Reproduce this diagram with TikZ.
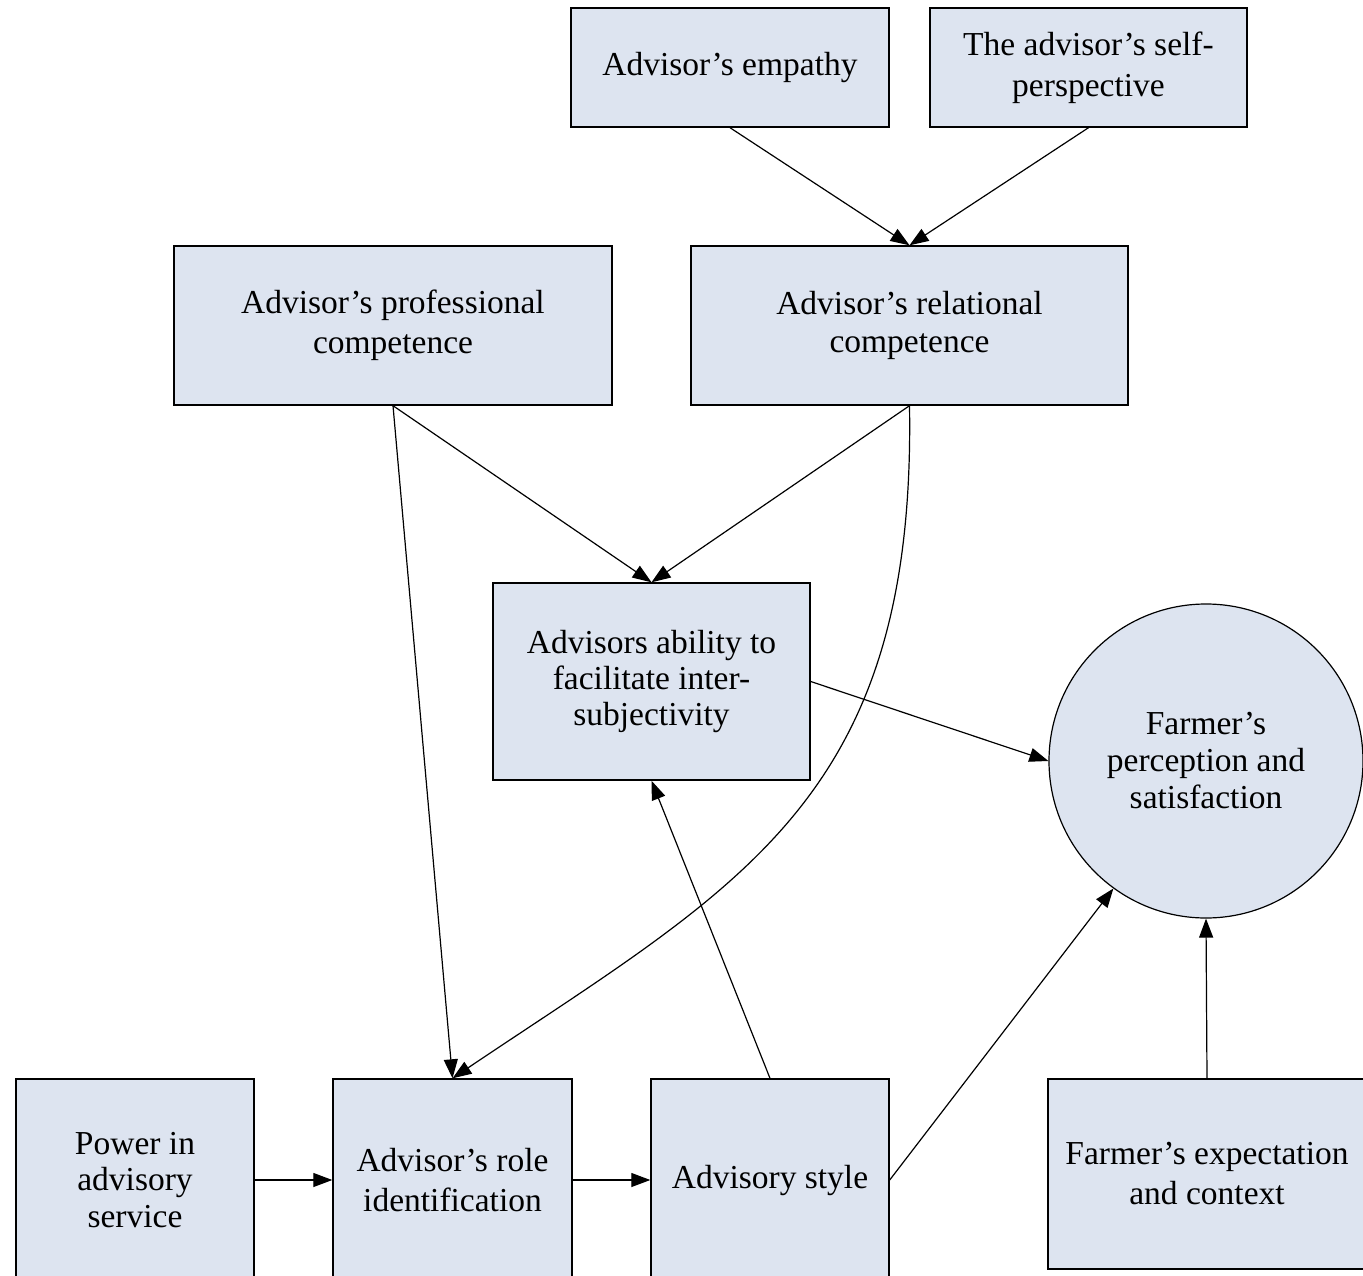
\documentclass[tikz,border=0pt]{standalone}
\usepackage{fontspec}
\setmainfont{Liberation Serif}
\usetikzlibrary{arrows.meta}
\definecolor{boxfill}{RGB}{221,228,240}
\tikzset{
  box/.style={draw=black, line width=1.4pt, fill=boxfill, rectangle, inner sep=0pt, align=center,
     font=\fontsize{33.5}{38}\selectfont},
  circ/.style={draw=black, line width=1.2pt, fill=boxfill, circle, inner sep=0pt, align=center,
     font=\fontsize{33.5}{37}\selectfont},
  arr/.style={line width=1.2pt, -{Triangle[length=19pt,width=14pt]}}
}
\begin{document}
\begin{tikzpicture}[x=1pt,y=1pt]
\useasboundingbox (0,0) rectangle (1363,-1276);
\clip (0,0) rectangle (1363,-1276);
\fill[white] (0,0) rectangle (1363,-1276);
\node[box, minimum width=318pt, minimum height=119pt] (emp) at (730,-67.5) {Advisor’s empathy};
\node[box, minimum width=317pt, minimum height=119pt, font=\fontsize{33.5}{41}\selectfont] (self) at (1088.5,-67.5) {The advisor’s self-\\perspective};
\node[box, minimum width=438pt, minimum height=159pt, font=\fontsize{33.5}{40}\selectfont] (prof) at (393,-325.5) {Advisor’s professional\\competence};
\node[box, minimum width=437pt, minimum height=159pt] (rel) at (909.5,-325.5) {Advisor’s relational\\competence};
\node[box, minimum width=317pt, minimum height=197pt, font=\fontsize{33.5}{36}\selectfont] (abil) at (651.5,-681.5) {Advisors ability to\\facilitate inter-\\subjectivity};
\node[circ, minimum size=314pt] (farm) at (1206,-761) {Farmer’s\\perception and\\satisfaction};
\node[box, minimum width=238pt, minimum height=202pt, font=\fontsize{33.5}{36.5}\selectfont] (power) at (135,-1180) {Power in\\advisory\\service};
\node[box, minimum width=239pt, minimum height=202pt, font=\fontsize{33.5}{40}\selectfont] (role) at (452.5,-1180) {Advisor’s role\\identification};
\node[box, minimum width=238pt, minimum height=202pt] (style) at (770,-1180) {Advisory style};
\node[box, minimum width=318pt, minimum height=190pt, font=\fontsize{33.5}{40}\selectfont] (expect) at (1207,-1174) {Farmer’s expectation\\and context};

\draw[arr] (emp.south) -- (rel.north);
\draw[arr] (self.south) -- (rel.north);
\draw[arr] (prof.south) -- (abil.north);
\draw[arr] (rel.south) -- (abil.north);
\draw[arr] (prof.south) -- (role.north);
\draw[arr] (rel.south) .. controls (916,-800) and (740,-885) .. (role.north);
\draw[arr] (abil.east) -- (farm.west);
\draw[arr] (style.north) -- (abil.south);
\draw[arr] (style.east) -- (farm.234);
\draw[arr] (expect.north) -- (farm.south);
\draw[arr] (power.east) -- (role.west);
\draw[arr] (role.east) -- (style.west);
\end{tikzpicture}
\end{document}
